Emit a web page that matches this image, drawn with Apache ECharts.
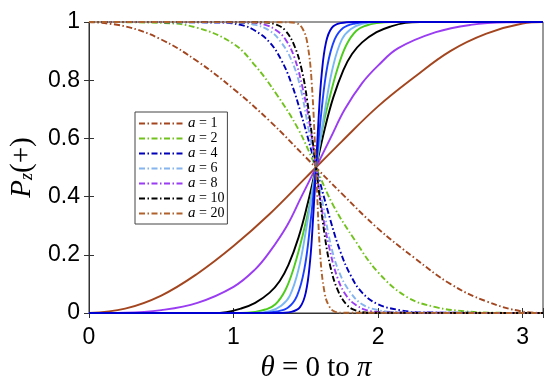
<!DOCTYPE html>
<html><head><meta charset="utf-8">
<script src="https://cdn.jsdelivr.net/npm/echarts@6/dist/echarts.min.js"></script>
<style>html,body{margin:0;padding:0;background:#fff}#c{width:550px;height:383px}</style>
</head><body><div id="c"></div>
<script>
// ---- data ----
const xTicks = [0, 1, 2, 3];
const yTicks = [0, 0.2, 0.4, 0.6, 0.8, 1];
const aValues = ['1', '2', '4', '6', '8', '10', '20'];

// falling (dash-dot) curves
const T1 = [0,0.25,0.5,0.75,1,1.25,1.5,1.75,2,2.25,2.5,2.75,3,3.1416];
const fall1 = [1,0.985,0.94,0.865,0.77,0.66,0.535,0.41,0.29,0.19,0.10,0.04,0.005,0];
const T2 = [0,0.5,0.75,1.0,1.15,1.3,1.45,1.5708,1.69,1.84,2.0,2.2,2.4,2.6,2.8,3.1416];
const fall2 = [1,0.997,0.98,0.925,0.85,0.75,0.63,0.5,0.37,0.25,0.14,0.055,0.02,0.006,0.001,0];
const T4 = [0,0.9,1.05,1.15,1.25,1.33,1.4,1.47,1.5708,1.67,1.74,1.81,1.89,2.0,2.15,2.3,3.1416];
const fall4 = [1,0.998,0.99,0.97,0.93,0.87,0.79,0.68,0.5,0.32,0.21,0.13,0.07,0.03,0.01,0.002,0];
const T6 = [0,1.0,1.15,1.25,1.33,1.4,1.46,1.52,1.5708,1.62,1.68,1.74,1.81,1.89,2.0,2.15,3.1416];
const fall6 = [1,0.998,0.99,0.97,0.93,0.87,0.78,0.63,0.5,0.37,0.22,0.13,0.07,0.03,0.01,0.002,0];
const T8 = [0,1.1,1.22,1.3,1.36,1.42,1.48,1.53,1.5708,1.61,1.66,1.72,1.78,1.84,1.92,2.05,3.1416];
const fall8 = [1,0.999,0.99,0.97,0.94,0.88,0.77,0.64,0.5,0.36,0.23,0.12,0.06,0.03,0.01,0.002,0];
const T10 = [0,1.2,1.3,1.36,1.42,1.47,1.51,1.5708,1.63,1.67,1.72,1.78,1.84,1.94,3.1416];
const fall10 = [1,0.999,0.99,0.97,0.92,0.84,0.73,0.5,0.27,0.16,0.08,0.03,0.01,0.001,0];
const T20 = [0,1.38,1.44,1.48,1.51,1.54,1.5708,1.60,1.63,1.66,1.70,1.76,3.1416];
const fall20 = [1,0.999,0.995,0.975,0.93,0.8,0.5,0.2,0.07,0.025,0.005,0.001,0];

// rising (solid) curves
const riseBrown = [0,0.015,0.06,0.135,0.23,0.34,0.465,0.59,0.71,0.81,0.90,0.96,0.995,1];
const TP = [0,0.25,0.5,0.75,1.0,1.15,1.25,1.37,1.47,1.5708,1.67,1.77,1.89,2.0,2.14,2.4,2.64,2.89,3.1416];
const risePurple = [0,0.001,0.01,0.035,0.09,0.15,0.21,0.3,0.4,0.5,0.6,0.7,0.79,0.85,0.91,0.965,0.99,0.999,1];
const TK = [0,0.85,0.95,1.05,1.15,1.25,1.32,1.38,1.45,1.51,1.5708,1.63,1.69,1.76,1.82,1.89,1.99,2.09,2.19,2.29,3.1416];
const riseBlack = [0,0,0.003,0.015,0.035,0.07,0.11,0.165,0.26,0.37,0.5,0.63,0.74,0.835,0.89,0.93,0.965,0.985,0.997,1,1];
const TG = [0,1.05,1.15,1.22,1.29,1.36,1.42,1.48,1.53,1.5708,1.61,1.66,1.72,1.78,1.85,1.92,1.99,2.09,3.1416];
const riseGreen = [0,0,0.004,0.012,0.03,0.08,0.16,0.27,0.38,0.5,0.62,0.73,0.84,0.92,0.97,0.988,0.996,1,1];
const TL = [0,1.15,1.25,1.33,1.39,1.45,1.5,1.5708,1.64,1.69,1.75,1.81,1.89,1.99,3.1416];
const riseLight = [0,0,0.006,0.025,0.06,0.15,0.28,0.5,0.72,0.85,0.94,0.975,0.994,1,1];
const TB2 = [0,1.2,1.3,1.38,1.44,1.49,1.53,1.5708,1.61,1.65,1.70,1.76,1.84,1.94,3.1416];
const riseBlue2 = [0,0,0.005,0.02,0.06,0.15,0.3,0.5,0.7,0.85,0.94,0.98,0.995,1,1];
const TB1 = [0,1.3,1.4,1.46,1.5,1.53,1.55,1.5708,1.59,1.61,1.64,1.68,1.74,1.84,3.1416];
const riseBlue1 = [0,0,0.004,0.02,0.07,0.18,0.32,0.5,0.68,0.82,0.93,0.98,0.996,1,1];

// ---- styling ----
const fallColors = ['#a3461f','#72c21e','#0000b8','#86b4ee','#9a3cf2','#000000','#b0622c'];
const fallT = [T1,T2,T4,T6,T8,T10,T20];
const fallP = [fall1,fall2,fall4,fall6,fall8,fall10,fall20];
const riseT = [T1,TP,TK,TG,TL,TB2,TB1];
const riseP = [riseBrown,risePurple,riseBlack,riseGreen,riseLight,riseBlue2,riseBlue1];
const riseColors = ['#a3461f','#9a3cf2','#000000','#4ccc1c','#79b8f5','#1a40ff','#0000d0'];
const DASHDOT = [6, 2.5, 1.5, 2.5];

const pairs = (t, p) => t.map((x, i) => [x, p[i]]);
const series = [];
riseT.forEach((t, i) => series.push({
  name: 'r' + i, type: 'line', data: pairs(t, riseP[i]), showSymbol: false, symbol: 'none',
  smooth: 0.4, clip: false,
  lineStyle: { color: riseColors[i], width: 1.9, type: 'solid' }, itemStyle: { color: riseColors[i] }
}));
fallT.forEach((t, i) => series.push({
  name: 'a = ' + aValues[i], type: 'line', data: pairs(t, fallP[i]), showSymbol: false, symbol: 'none',
  smooth: 0.4, clip: false,
  lineStyle: { color: fallColors[i], width: 1.9, type: DASHDOT }, itemStyle: { color: fallColors[i] }
}));

const axisCol = '#333333';
const chart = echarts.init(document.getElementById('c'), null, { renderer: 'canvas' });
chart.setOption({
  animation: false,
  backgroundColor: '#ffffff',
  grid: { left: 89, right: 7, top: 22, bottom: 70, outerBoundsMode: 'none', containLabel: false,
    show: true, borderColor: axisCol, borderWidth: 1, backgroundColor: 'transparent' },
  legend: {
    data: aValues.map(v => 'a = ' + v),
    orient: 'vertical', left: 135, top: 112,
    itemWidth: 44, itemHeight: 12, itemGap: 0,
    padding: [4, 3, 3, 3],
    itemStyle: { opacity: 0 },
    backgroundColor: '#ffffff', borderColor: '#444444', borderWidth: 1, borderRadius: 0,
    formatter: name => '{i|a}{n| = ' + name.slice(4) + '}',
    textStyle: {
      fontFamily: 'Liberation Serif', fontSize: 14, color: '#000', lineHeight: 12, height: 12,
      rich: {
        i: { fontFamily: 'Liberation Serif', fontStyle: 'italic', fontSize: 15, lineHeight: 12, height: 12 },
        n: { fontFamily: 'Liberation Serif', fontSize: 14, lineHeight: 12, height: 12 }
      }
    }
  },
  xAxis: [{
    type: 'value', min: 0, max: Math.PI, interval: 1, position: 'bottom',
    name: '{i|θ}{n| = 0 to }{i|π}', nameLocation: 'middle', nameGap: 40,
    nameTextStyle: {
      rich: {
        i: { fontFamily: 'Liberation Serif', fontStyle: 'italic', fontSize: 29, color: '#000' },
        n: { fontFamily: 'Liberation Serif', fontSize: 29, color: '#000' }
      }
    },
    axisLine: { show: true, lineStyle: { color: axisCol, width: 1 } },
    axisTick: { show: true, inside: true, length: 5, lineStyle: { color: axisCol } },
    axisLabel: { show: true, margin: 13, fontFamily: 'Liberation Sans', fontSize: 23, color: '#000',
      formatter: v => (xTicks.indexOf(Math.round(v * 1000) / 1000) >= 0 ? String(Math.round(v)) : '') },
    splitLine: { show: false }
  }, {
    type: 'value', min: 0, max: Math.PI, interval: 1, position: 'top',
    axisLine: { show: true, lineStyle: { color: axisCol, width: 1 } },
    axisTick: { show: true, inside: true, length: 5, lineStyle: { color: axisCol } },
    axisLabel: { show: false }, splitLine: { show: false }
  }],
  yAxis: [{
    type: 'value', min: 0, max: 1, interval: 0.2, position: 'left',
    name: '{i|P}{s|z}{n|(+)}', nameLocation: 'middle', nameGap: 46,
    nameTextStyle: {
      rich: {
        i: { fontFamily: 'Liberation Serif', fontStyle: 'italic', fontSize: 29, color: '#000', lineHeight: 34 },
        s: { fontFamily: 'Liberation Serif', fontStyle: 'italic', fontSize: 18, color: '#000', lineHeight: 34, padding: [10, 0, 0, 0] },
        n: { fontFamily: 'Liberation Serif', fontSize: 29, color: '#000', lineHeight: 34 }
      }
    },
    axisLine: { show: true, lineStyle: { color: axisCol, width: 1 } },
    axisTick: { show: true, inside: true, length: 5, lineStyle: { color: axisCol } },
    axisLabel: { show: true, margin: 9, fontFamily: 'Liberation Sans', fontSize: 23, color: '#000',
      formatter: v => { const r = Math.round(v * 10) / 10; return yTicks.indexOf(r) >= 0 ? String(r) : ''; } },
    splitLine: { show: false }
  }, {
    type: 'value', min: 0, max: 1, interval: 0.2, position: 'right',
    axisLine: { show: true, lineStyle: { color: axisCol, width: 1 } },
    axisTick: { show: true, inside: true, length: 5, lineStyle: { color: axisCol } },
    axisLabel: { show: false }, splitLine: { show: false }
  }],
  series: series
});
</script></body></html>
